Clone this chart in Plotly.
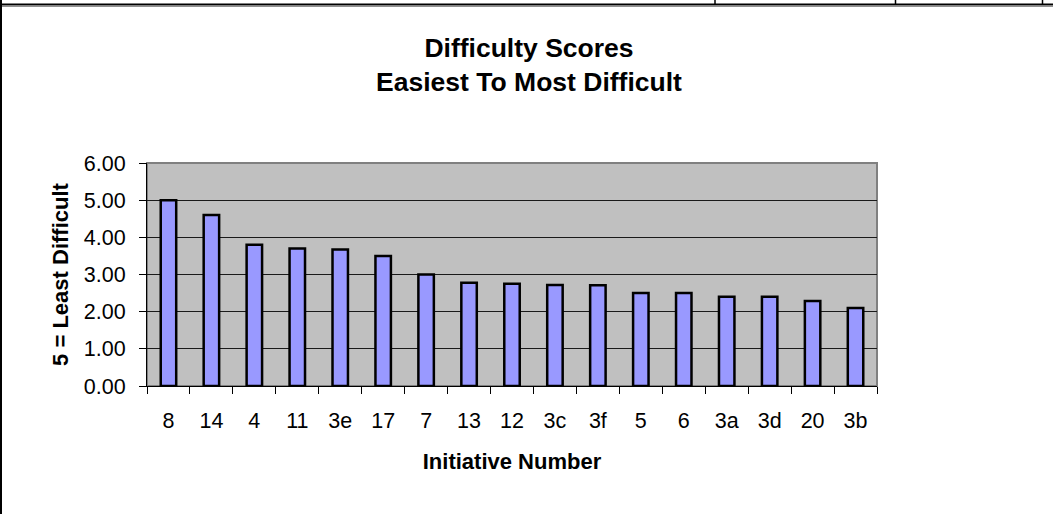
import plotly.graph_objects as go

# ---- data ----
initiatives = ["8", "14", "4", "11", "3e", "17", "7", "13", "12", "3c", "3f", "5", "6", "3a", "3d", "20", "3b"]
scores = [5.00, 4.60, 3.80, 3.70, 3.67, 3.50, 3.00, 2.78, 2.75, 2.72, 2.71, 2.50, 2.50, 2.40, 2.40, 2.29, 2.10]
y_ticks = [0, 1, 2, 3, 4, 5, 6]

title_text = "Difficulty Scores<br>Easiest To Most Difficult"
x_title = "Initiative Number"
y_title = "5 = Least Difficult"

# ---- layout geometry (pixels) ----
W_FIG, H_FIG = 1053, 514
L, R, T, B = 147, 877, 163, 386
PW, PH = R - L, B - T


def px(x):
    return (x - L) / PW


def py(y):
    return (B - y) / PH


FONT = "Arial, 'Liberation Sans', Helvetica, sans-serif"

fig = go.Figure()
fig.add_trace(go.Bar(
    x=initiatives,
    y=scores,
    marker=dict(color="#9999FF", line=dict(color="#000000", width=2.5)),
    hoverinfo="x+y",
))

shapes = [
    # plot area border
    dict(type="rect", xref="paper", yref="paper", x0=0, x1=1, y0=0, y1=1,
         line=dict(color="#808080", width=2), layer="below"),
    # outer frame (spreadsheet cell borders)
    dict(type="line", xref="paper", yref="paper", x0=px(0), x1=px(W_FIG), y0=py(4.5), y1=py(4.5),
         line=dict(color="#000000", width=2)),
    dict(type="line", xref="paper", yref="paper", x0=px(0), x1=px(W_FIG), y0=py(6.3), y1=py(6.3),
         line=dict(color="#909090", width=1.2)),
    dict(type="line", xref="paper", yref="paper", x0=px(1), x1=px(1), y0=py(0), y1=py(H_FIG),
         line=dict(color="#000000", width=2)),
]
for vx in (715, 895.5, 1042.5):
    shapes.append(dict(type="line", xref="paper", yref="paper", x0=px(vx), x1=px(vx), y0=py(0), y1=py(4),
                       line=dict(color="#000000", width=1.5)))

fig.update_layout(
    width=W_FIG, height=H_FIG, autosize=False,
    margin=dict(l=L, r=W_FIG - R, t=T, b=H_FIG - B, pad=0),
    paper_bgcolor="#FFFFFF",
    plot_bgcolor="#C0C0C0",
    bargap=0.64,
    showlegend=False,
    font=dict(family=FONT, size=21.5, color="#000000"),
    title=dict(
        text=title_text,
        font=dict(family=FONT, size=26.5, color="#000000", weight="bold"),
        x=529 / W_FIG, xanchor="center", xref="container",
        y=1 - 57 / H_FIG, yanchor="top", yref="container",
    ),
    xaxis=dict(
        type="category",
        tickson="boundaries",
        ticks="outside", ticklen=7, tickcolor="#000000", tickwidth=1,
        showline=True, linecolor="#000000", linewidth=1,
        showgrid=False,
        tickfont=dict(family=FONT, size=21.5, color="#000000"),
        ticklabelstandoff=15,
        title=dict(text=x_title, font=dict(family=FONT, size=22, color="#000000", weight="bold"),
                   standoff=21),
    ),
    yaxis=dict(
        range=[0, 6],
        tickvals=y_ticks,
        tickformat=".2f",
        ticks="outside", ticklen=7, tickcolor="#000000", tickwidth=1,
        showline=True, linecolor="#000000", linewidth=1,
        showgrid=True, gridcolor="#1A1A1A", gridwidth=1,
        zeroline=False,
        tickfont=dict(family=FONT, size=21.5, color="#000000"),
        ticklabelstandoff=9,
        title=dict(text=y_title, font=dict(family=FONT, size=22, color="#000000", weight="bold"),
                   standoff=9),
    ),
    shapes=shapes,
)

fig.write_html(
    "out.html",
    config={"displayModeBar": False},
    post_script="document.body.style.margin='0px';document.body.style.overflow='hidden';",
)
